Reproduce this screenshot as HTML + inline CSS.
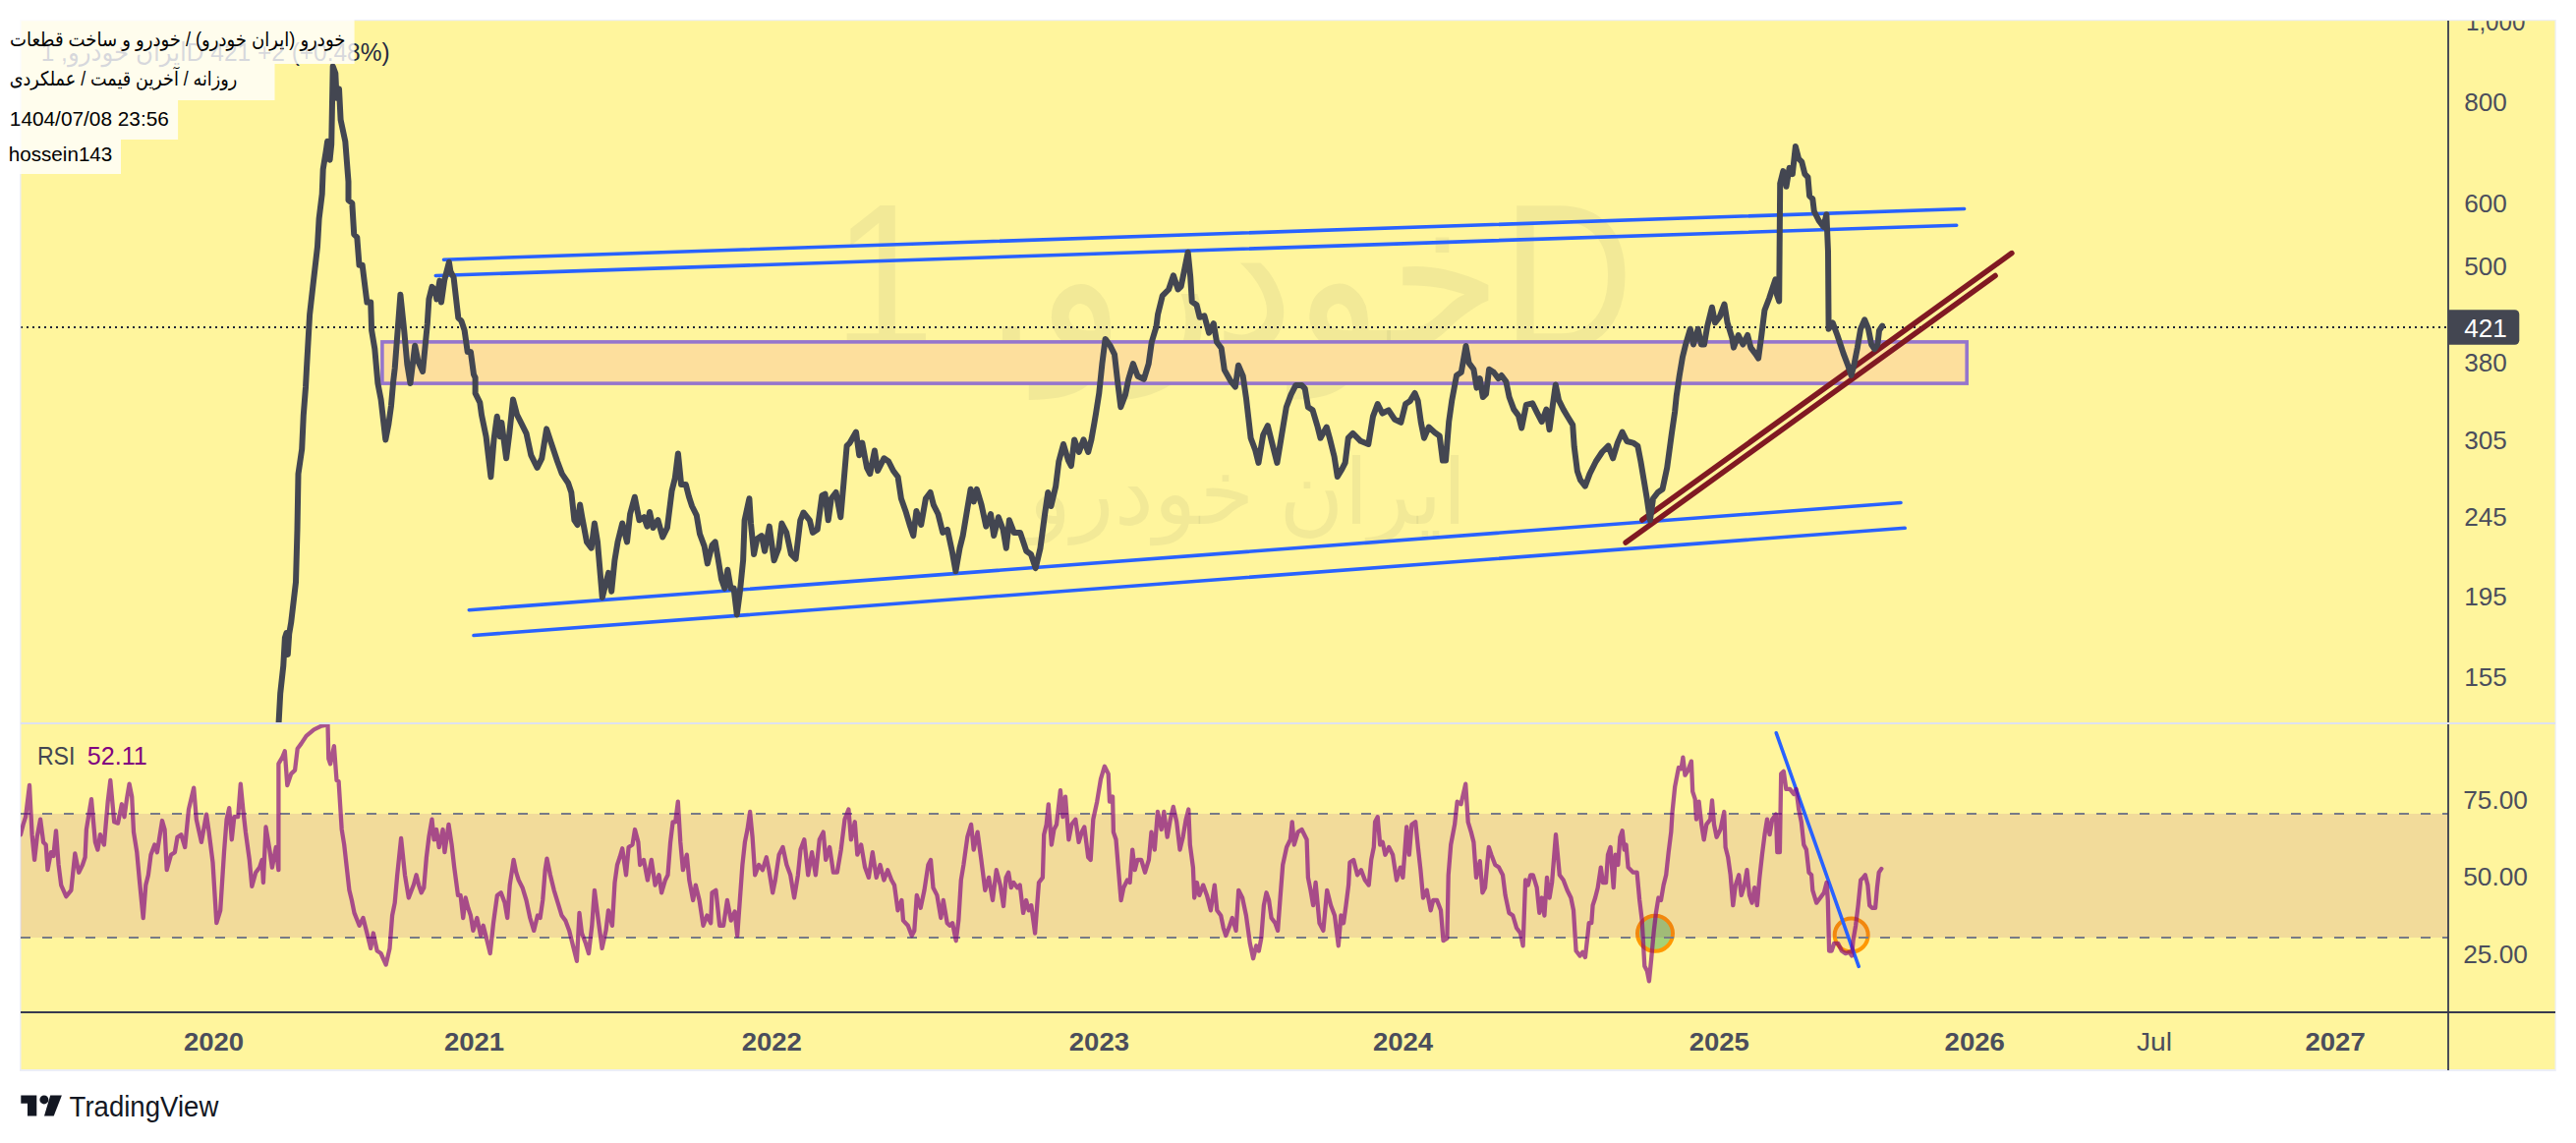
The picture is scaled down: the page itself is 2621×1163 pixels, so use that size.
<!DOCTYPE html><html><head><meta charset="utf-8"><title>chart</title>
<style>html,body{margin:0;padding:0;background:#fff;}svg{display:block;}</style></head><body>
<svg width="2621" height="1163" viewBox="0 0 2621 1163">
<defs><clipPath id="cm"><rect x="21.5" y="21.2" width="2469.5" height="713.8"/></clipPath><clipPath id="cr"><rect x="21" y="736.5" width="2470" height="293"/></clipPath></defs>
<rect x="0" y="0" width="2621" height="1163" fill="#ffffff"/>
<rect x="20" y="20" width="2580.7" height="1070" fill="#eceef6"/>
<rect x="21.5" y="21.2" width="2578" height="1066.8" fill="#fff59d"/>
<g clip-path="url(#cm)">
<text x="1255" y="354.5" font-family="'Liberation Sans', 'DejaVu Sans', sans-serif" font-size="211" fill="rgba(67,70,81,0.065)" text-anchor="middle" textLength="815" lengthAdjust="spacingAndGlyphs">خودرو, <tspan font-family="'Liberation Sans', Arial, sans-serif">1D</tspan></text>
<text x="1269.5" y="533" font-family="'Liberation Sans', 'DejaVu Sans', sans-serif" font-size="92" fill="rgba(67,70,81,0.065)" text-anchor="middle" textLength="446" lengthAdjust="spacingAndGlyphs">ایران خودرو</text>
<rect x="388.9" y="347.9" width="1612.3" height="42.2" fill="#fddf9d" stroke="#9575cd" stroke-width="3.6"/>
<line x1="21" y1="333" x2="2491" y2="333" stroke="#1e2235" stroke-width="2" stroke-dasharray="2 4"/>
<line x1="451.5" y1="264.2" x2="1998.6" y2="212.5" stroke="#2962ff" stroke-width="3.6" stroke-linecap="round"/>
<line x1="443.3" y1="280.5" x2="1990.7" y2="229.2" stroke="#2962ff" stroke-width="3.6" stroke-linecap="round"/>
<line x1="477.3" y1="620.7" x2="1934" y2="511.5" stroke="#2962ff" stroke-width="3.6" stroke-linecap="round"/>
<line x1="482" y1="646.5" x2="1938.2" y2="537.3" stroke="#2962ff" stroke-width="3.6" stroke-linecap="round"/>
<line x1="1670.9" y1="529.1" x2="2046.9" y2="257.6" stroke="#801922" stroke-width="5.5" stroke-linecap="round"/>
<line x1="1654.1" y1="552.1" x2="2030.1" y2="280.5" stroke="#801922" stroke-width="5.5" stroke-linecap="round"/>
<polyline points="283.6,735 285.2,705.7 288.3,677.4 289.9,649 291.5,644 292.8,666 294.2,645 296.2,633.3 301,592.3 302.5,538.8 303.5,482.1 307.2,456.9 308.8,422.2 311,393.9 312,375 315.1,320.2 318.3,291.9 323,250.9 324.6,222.6 327.7,197.4 328.7,172.2 331.8,153.3 333.1,143.8 335.6,162.7 337.2,147 338.7,67.5 341.3,74.5 342.5,99.7 345,90.3 346.6,121.8 351.3,143.8 354.5,184.8 354.5,203.7 358.3,206.8 360.2,238.3 363.3,241.5 365.5,269.8 368.7,269.8 371.8,295 373.4,307.6 377.2,307.6 378.1,336 381.3,354.9 384.4,390 387.6,406.5 392.3,447.4 395.4,431.7 398,412.8 400.2,387.6 401.7,375 407.4,299.7 411.2,336 414.3,370.6 417.5,390 422.2,351.7 425.4,367.5 430.1,378 434.8,329.7 436.4,304.5 439.5,291.9 442.7,295 444.3,304.5 447.4,285.6 449,307.6 452.1,285.6 456.9,266.7 458.4,276.1 461.6,282.4 466.3,323.4 469.4,326.5 472.6,336 475.7,358 478.9,358 482,381 483.6,384.4 483.6,400.2 488.3,409.6 490,422.2 494.6,444.3 499.4,485.2 502.5,447.4 505.7,423.8 508.8,444.3 510.4,430.1 515.1,466.3 518.3,441.1 522,406.5 526.1,422.2 530.9,431.7 535.6,441.1 540.3,463.2 546.6,475.8 551.3,466.3 556.1,436.4 560.8,450.6 567.1,469.5 571.8,482.1 578.1,491.5 581.3,501 584.4,529.3 587.6,534 590.1,513.6 592.3,526.2 597,551.4 601.7,557.7 604.9,532.5 608,551.4 612.8,608.1 615.9,595.5 619.1,582.9 622.2,601.8 625.4,570.3 628.5,551.4 633.2,532.5 638,551.4 641.1,523 645.8,505.7 650.5,529.3 655.3,526.2 658.4,535.6 661,521 664.5,537 669.4,529.1 674.2,546.5 678.9,537 683.6,499.2 686.8,486.6 689.9,461.4 693.1,492.9 697.8,492.9 701,505.5 704.1,515 708.8,524.4 712,543.3 716.7,555.9 719.8,573.4 724.6,554.5 727.7,551.4 730.9,570.3 734,589.2 737.2,598.6 740.3,579.7 743.5,598.6 746.6,598.6 749.8,625.4 752.9,601.8 756.1,570.3 757.6,529.3 762.4,507.3 764,532.5 767.1,564 770.3,548.2 775,545.1 778.1,560.8 782.8,535.6 787.6,570.3 792.3,557.7 795.4,532.5 800.2,541.9 804.9,564 809.6,568.7 814.3,529.3 817.5,521.5 823.8,529.3 826.9,541.9 831.7,538.8 836.4,504.1 839.5,502.6 842.7,529.3 845.8,507.3 850.6,501 855.3,526.2 858.4,491.5 861.6,453.7 864.7,450.6 871,439.6 874.2,463.2 877.3,450.6 882,475.8 885.2,482.1 889.9,458.5 893.1,479 899.4,466.3 904.1,469.5 908.9,479 913.6,485.2 916.9,507.3 921.4,519.9 926.1,535.6 929.3,545.1 932.4,519.9 937.2,534 941.9,507.3 946.6,501 949.8,513.6 954.5,523 959.2,541.9 964,538.8 968.7,560.8 972.4,581.3 976.5,557.7 979.7,545.1 984.4,516.7 987.6,497.8 990.7,510.4 993.9,497.8 998.6,513.6 1003.3,535.6 1008,523 1011.2,545.1 1015.9,526.2 1020.6,538.8 1023.8,557.7 1026.9,529.3 1031.7,541.9 1038,541.9 1044.3,560.8 1049,564 1053.7,578.1 1058.5,557.7 1060,546.5 1063.1,523 1066.3,501 1069.4,515 1074.2,494.7 1077.3,469.5 1082,452 1086.8,468 1089.9,474 1093.1,447.4 1097.8,460 1102.5,447.4 1107.2,460 1110.4,447.4 1113.5,430 1115.1,420.5 1118.3,400 1121.4,370.1 1124.6,344.9 1129.3,351.2 1134,360.6 1137.2,389 1140.3,414.2 1145,401.6 1148.2,385.8 1152.9,370.1 1157.6,382.7 1163.9,385.8 1168.7,370.1 1171.8,348 1176.5,332.3 1178.1,319.7 1182.8,300.8 1189.1,294.5 1193.9,280.3 1198.6,294.5 1201.7,291.3 1204.9,275.6 1208.7,256.7 1211.2,281.9 1212.8,307.1 1217.5,310.2 1220.6,322.8 1225.4,321.3 1230.1,338.6 1234.8,329.1 1238,348 1242.7,354.3 1245.8,376.4 1252.1,387.6 1256.9,393.7 1260,371.7 1264.7,382.7 1267.9,404.7 1272.6,445.7 1277.3,458.3 1280.5,470.9 1285.2,442.5 1289.9,433.1 1294.6,452 1299.4,470.9 1304.1,442.5 1308.8,414.2 1313.5,401.6 1318.3,392.1 1324.6,392.1 1327.7,395.3 1330.9,414.2 1335.6,417.3 1340.3,433.1 1343.5,445.7 1349.8,434.6 1352.9,445.7 1357.6,464.6 1360.8,485 1365.5,477.2 1368.7,470.9 1371.8,445.7 1376.5,440.9 1384.4,448.8 1392.3,452 1397,423.6 1401.7,411 1406.5,420.5 1412.8,417.3 1419.1,426.8 1425.4,429.9 1430.1,411 1434.8,407.9 1439.5,400 1442.7,407.9 1445.8,429.9 1449,445.7 1453.7,434.6 1460,440.2 1464.7,443.4 1467.9,468.6 1471,468.6 1474.2,429.2 1477.3,407.2 1482,382 1486.8,378.8 1491.5,352 1494.6,369.4 1499.4,375.7 1502.5,394.6 1505.7,385.1 1508.8,404 1512,400.9 1515.1,375.7 1519.8,378.8 1524.6,385.1 1527.7,382 1532.4,388.3 1535.6,404 1540.3,416.6 1545,422.9 1548.2,435.5 1552.9,411.9 1559.2,410.3 1563.9,419.8 1568.7,429.2 1573.4,416.6 1576.5,437.1 1579.7,413.5 1582.8,391.4 1586,407.2 1590.7,416.6 1595.4,424.5 1600.2,432.4 1601.7,454.4 1604.9,479.6 1608,488.4 1612.8,494.7 1617.5,482.1 1623.8,469.5 1630.1,460 1636.4,453.7 1641.1,466.3 1645.8,450.6 1650.6,439.6 1655.3,449 1661.6,450.6 1666.3,453.7 1669.4,469.5 1672.6,488.4 1675.7,507.3 1678.9,529.3 1682,507.3 1686.8,501 1691.5,497.8 1696.2,475.8 1700.9,441.1 1704.1,419.1 1705.7,403.3 1708.8,382 1712,363.1 1715.1,350.5 1719.8,334.7 1723,350.5 1727.7,334.7 1730.9,350.5 1734,350.5 1737.2,331.6 1741.9,312.7 1745,328.4 1749.8,322.1 1754.5,309.5 1757.6,328.4 1762.4,344.2 1763.9,353.6 1768.7,341 1773.4,350.5 1778.1,341 1781.3,353.6 1786,359.9 1789.1,364.6 1792.3,341 1795.4,315.8 1800.2,303.2 1803.3,293.8 1806.5,284.3 1808,300.1 1810.2,306.4 1811.2,186.7 1814.3,174.1 1817.5,189.8 1820.6,170.9 1823.8,177.2 1826.9,148.9 1830.1,161.5 1833.2,164.6 1836.4,177.2 1839.5,180.4 1841.1,199.3 1844.3,202.4 1845.8,215 1850.6,224.5 1855.3,230.8 1858.4,218.2 1860,256 1860.6,334.7 1864.7,328.4 1869.4,341 1872.6,350.5 1875.7,359.9 1880.5,372.5 1883.6,382 1886.8,369.4 1889.9,353.6 1893.1,334.7 1897.2,325.3 1901,334.7 1904.1,350.5 1907.2,355.2 1910.4,350.5 1912,336.3 1915.1,331.6" fill="none" stroke="#434651" stroke-width="6" stroke-linejoin="round" stroke-linecap="round"/>
</g>
<g clip-path="url(#cr)">
<circle cx="1684" cy="949.8" r="18" fill="rgba(76,175,80,0.5)" stroke="#ff9800" stroke-width="4"/>
<circle cx="1883.7" cy="951.5" r="17" fill="rgba(255,183,77,0.3)" stroke="#ff9800" stroke-width="4"/>
<rect x="21" y="828" width="2470" height="126" fill="rgba(128,0,128,0.106)"/>
<line x1="21" y1="828" x2="2491" y2="828" stroke="#787b86" stroke-width="2" stroke-dasharray="10 12"/>
<line x1="21" y1="954" x2="2491" y2="954" stroke="#787b86" stroke-width="2" stroke-dasharray="10 12"/>
<line x1="1807.3" y1="745.8" x2="1891.2" y2="983.4" stroke="#2962ff" stroke-width="3.6" stroke-linecap="round"/>
<polyline points="21,849.2 23.6,838.9 26.1,831.2 30,799 32.6,849.2 35.1,874.9 37.7,851.7 41.1,833.7 44.1,856.9 46.7,859.5 48.5,885.2 51.9,867.2 54.4,871 57,845.3 59.6,880 62.2,900.6 67.3,912.2 72.4,905.8 76.3,868.5 80.2,887.7 84,880 86.6,872.3 87.9,844 93,813.2 96.9,856.9 99.4,864.6 102,849.2 105.9,859.5 109.7,815.7 112.3,793.9 116.2,836.3 120,837.6 123.9,818.3 126.5,831.2 129,813.2 131.6,797.7 134.2,810.6 136,846.6 139.3,867.2 141.9,895.5 145.7,934 148.3,900.6 150.9,890.3 153.5,869.7 157.3,859.5 159.9,867.2 165,835 167.6,844 169.7,885.2 174,869.7 177.9,867.2 180.5,851.7 184.3,849.2 188.2,862 192,823.5 197.2,801.6 199.8,833.7 204.9,856.9 210,828.6 212.6,846.6 216.5,877.5 220.3,939.2 224.2,926.3 228,867.2 230.6,833.7 233.2,822.2 235.8,854.3 238.3,831.2 242.2,831.2 244.8,797.7 247.3,823.5 249.9,846.6 253.8,874.9 256.3,901.9 260.2,887.7 264.1,882.6 266.6,874.9 267.9,898 270.5,841.5 274.3,864.6 276.9,882.6 280.8,862 283.4,885.2 283.4,777.2 287.2,770.7 289.8,764.3 292.3,799 296.2,787.4 300.1,783.6 302.7,761.7 306.5,756.6 311.6,748.9 319.4,742.4 327.1,738.6 333.5,737.3 334.3,772 336.1,777.2 339.9,759.1 342.5,793.9 344.6,795.2 347.7,844 350.2,859.5 355.4,905.8 357.9,916 360.5,928.9 365.6,941.8 369.5,934 373.4,949.5 377.2,964.9 379.8,949.5 383.7,967.5 387.5,970 392.7,981.6 396.5,964.9 399.1,931.5 401.7,918.6 404.2,890.3 408.1,853 412,890.3 415.8,913.5 421,900 423.6,890.3 426.1,900.6 428.7,908.3 431.3,903.2 433.9,872.3 436.4,851.7 439.5,833.7 441.6,854.3 444.1,844 446.7,862 450.6,844 452.4,867.2 456.5,838.9 459.6,859.5 462.2,882.6 466,910.9 468.6,910.9 471.2,934 473.7,913.5 476.3,923.8 478.9,931.5 481.4,946.9 485.3,934 489.2,952 491.7,941.8 495.6,957.2 498.7,970.1 502,939.2 505.9,910.9 509.7,908.3 513.6,918.6 516.2,934 518.7,900.6 522.6,874.9 525.2,887.7 527.7,895.5 531.6,903.2 535.5,916 539.3,934 543.2,946.9 547,931.5 549.6,934 552.2,916 554.7,885.2 556.5,873.6 559.9,890.3 563.7,905.8 567.6,918.6 571.5,931.5 575.3,936.6 579.2,946.9 583,962.3 586.9,977.8 589.5,928.9 592,949.5 595.9,959.8 599,970.1 602.3,941.8 604.9,905.8 608.8,936.6 612.6,964.9 616.5,946.9 619,926.3 622.9,941.8 625.5,898 628,880 630.6,872.3 633.2,863.3 637,890.3 639.6,862 643.5,859.5 646,844 649.4,856.9 651.2,880 655,874.9 658.9,895.5 662.8,874.9 666.6,900.6 670.5,890.3 673.1,908.3 676.9,895.5 679.5,890.3 682.1,856.9 684.6,836.3 687.2,836.3 689.8,815.7 692.3,856.9 694.9,885.2 698.8,869.7 701.3,895.5 705.2,916 707.8,900.6 711.6,916 715.5,941.8 719.4,931.5 723.2,939.2 724.5,908.3 728.4,905.8 732.2,941.8 736.1,941.8 739.9,916 743.8,936.6 747.6,927.6 750.2,952 752.8,916 755.4,880 757.9,856.9 760.5,844 763.1,826 765.6,851.7 768.2,890.3 772.1,880 775.9,885.2 779.8,872.3 782.4,885.2 786.2,908.3 788.8,895.5 792.6,869.7 796.5,862 800.4,880 804.2,890.3 808.1,913.5 811.9,890.3 814.5,864.6 818.3,854.3 822.2,890.3 826.1,867.2 829.9,890.3 833.8,854.3 837.7,846.6 840.2,874.9 844.1,862 847.9,887.7 851.8,887.7 855.7,864.6 859.5,833.7 863.4,823.5 865.9,854.3 869.8,836.3 872.3,869.7 876.2,859.5 880.1,882.6 883.9,892.9 887.8,867.2 891.7,892.9 895.5,880 899.4,895.5 903.2,885.2 907.1,895.5 910,900.6 913.5,926.3 917.4,916 919,936.6 923.8,941.8 927.7,952 930.3,946.9 932.8,910.9 936.7,923.8 940.5,905.8 944.4,880 947,874.9 949.5,903.2 953.4,910.9 957.3,934 959.8,916 963.7,939.2 966.3,941.8 969.1,939.2 972.7,957.2 975.3,936.6 977.8,895.5 980.4,880 984.3,851.7 988.1,838.9 990.7,864.6 994.6,846.6 998.4,874.9 1002.3,905.8 1006.1,892.9 1010,916 1013.8,885.2 1017.7,900.6 1021,922 1023.6,892.9 1026.1,887.7 1028.7,903.2 1031.3,898 1035.1,903.2 1037.7,900.6 1041.1,928.9 1044.1,916 1046.7,926.3 1049.3,921.2 1053.1,949.5 1057,898 1060.9,892.9 1062.2,849.2 1064.7,838.9 1066.8,818.3 1069.9,859.5 1072.4,844 1075,838.9 1078.9,804.2 1081.4,831.2 1084,810.6 1087.4,854.3 1090.4,838.9 1094.3,833.7 1097.6,856.9 1100.7,846.6 1103.3,841.5 1107.2,872.3 1109.7,874.9 1112.3,833.7 1116.2,815.7 1120,792.6 1123.9,779.7 1127.7,787.4 1129,815.7 1132.1,810.6 1132.9,846.6 1135.5,854.3 1138,885.2 1140.6,916 1143.2,903.2 1147,895.5 1149.6,898 1152.2,864.6 1154.7,885.2 1157.3,874.9 1161.2,874.9 1165,887.7 1168.9,874.9 1171.5,846.6 1174.8,864.6 1177.9,826 1181.7,844 1184.3,826 1187.7,851.7 1190.8,833.7 1193.8,820.9 1197.2,836.3 1200.5,864.6 1203.6,851.7 1206.7,833.7 1209.3,823.5 1210.8,859.5 1213.9,882.6 1215.2,913.5 1217.8,898 1220.3,910.9 1224.2,900.6 1228,910.9 1231.9,926.3 1235.8,900.6 1238.3,926.3 1242.2,931.5 1244.8,944.3 1247.3,952 1251.2,941.8 1253.8,934 1257.6,946.9 1260.2,905.8 1264.1,913.5 1267.9,931.5 1271.8,959.8 1275.1,975.2 1278.2,962.3 1280.8,967.5 1283.3,954.6 1285.9,921.2 1288.5,908.3 1291.1,916 1293.6,934 1297.5,939.2 1300.1,946.9 1302.6,913.5 1305.2,880 1309.1,862 1312.9,854.3 1314.7,836.3 1316.8,859.5 1320.6,846.6 1324.5,844 1329.6,854.3 1330.9,892.9 1333.5,905.8 1336.1,921.2 1338.6,898 1342.5,939.2 1346.4,946.9 1350.2,905.8 1354.1,921.2 1358,931.5 1361.8,962.3 1364.4,931.5 1367,939.2 1369.5,921.2 1372.1,900.6 1373.4,877.5 1377.2,874.9 1381.1,890.3 1384.9,885.2 1388.8,895.5 1392.7,900.6 1395.2,874.9 1397.8,862 1399.1,836.3 1401.7,831.2 1404.2,859.5 1406.8,856.9 1409.4,869.7 1413.2,862 1417.1,869.7 1421,895.5 1424.8,882.6 1427.4,892.9 1431.2,841.5 1433.8,869.7 1436.4,838.9 1440.2,836.3 1442.8,862 1445.4,885.2 1448,913.5 1451.8,905.8 1455.7,926.3 1458.2,916 1462.1,916 1466,926.3 1468.5,957.2 1472.4,954.6 1473.7,890.3 1476.2,859.5 1480.1,838.9 1482.7,815.7 1486.5,818.3 1491.2,797.7 1493.7,836.3 1496.8,846.6 1499.4,856.9 1502,892.9 1505.8,876.2 1508.4,908.3 1511,903.2 1514.8,862 1517.4,869.7 1521.3,880 1525.1,882.6 1529,890.3 1531.6,910.9 1535.4,928.9 1539.3,931.5 1543.1,944.3 1547,949.5 1549.6,962.3 1552.1,895.5 1554.7,900.6 1557.3,890.3 1559.8,890.3 1563.7,903.2 1566.3,928.9 1568.8,913.5 1571.4,931.5 1574,892.9 1576.6,913.5 1579.1,898 1583,849.2 1586.8,890.3 1590.7,895.5 1594.6,905.8 1598.4,913.5 1601,926.3 1603.6,967.5 1607.6,972.6 1610.3,968.8 1612.9,973.9 1615.4,952 1616.7,939.2 1619.3,939.2 1620.6,921.2 1623.1,913.5 1625.7,903.2 1628.8,882.6 1630.9,898 1634,898 1636,869.7 1638.6,862 1639.9,880 1641.7,903.2 1643.7,869.7 1646.3,880 1648.4,851.7 1650.7,845.3 1652.7,864.6 1654.5,859.5 1656.6,882.6 1661.7,887.7 1665.6,887.7 1668.2,916 1670.7,936.6 1673.3,983 1675.9,988 1677.9,998.3 1680.2,975.2 1682.8,946.9 1684.9,928.9 1687.4,913.5 1690,916 1692.6,900.6 1695.2,890.3 1697.7,867.2 1700.3,846.6 1701.6,826 1704.2,800.3 1706.7,787.4 1708,781 1710.6,782.3 1712.4,770.7 1714.5,788.7 1717,784.9 1720.9,774.6 1722.2,805.4 1724.7,813.2 1726,833.7 1728.6,815.7 1731.2,838.9 1733.7,854.3 1736.3,838.9 1740.2,833.7 1742,814.4 1744,838.9 1746.6,851.7 1750.5,844 1754.3,826 1755.6,862 1758.2,872.3 1760.7,890.3 1763.3,921.2 1765.9,900.6 1769.2,890.3 1771.8,910.9 1774.9,900.6 1777.5,885.2 1780,910.9 1782.6,918.6 1785.2,903.2 1787.8,921.2 1790.3,892.9 1792.9,869.7 1795.5,849.2 1798,833.7 1800.6,849.2 1803.2,833.7 1807,828.6 1808.3,867.2 1810.9,867.2 1812.2,787.4 1814.8,784.9 1817.3,802.9 1821.2,802.9 1825.1,808 1827.6,802.9 1830.2,823.5 1832.8,836.3 1835.3,859.5 1837.9,864.6 1840.5,887.7 1843.1,890.3 1844.3,905.8 1848.2,918.6 1852.1,913.5 1855.9,908.3 1858.5,898 1859.8,916 1861.1,967.5 1863.6,967.5 1866.2,959.8 1870.1,959.8 1873.9,967.5 1877.8,970.1 1881.6,968.8 1884.2,972.6 1885.5,957.2 1888.1,941.8 1890.6,921.2 1893.2,895.5 1895.8,892.9 1897.8,890.3 1900.4,900.6 1902.2,921.2 1904.8,923.8 1908.1,923.8 1909.9,903.2 1911.7,887.7 1914.3,883.9" fill="none" stroke="rgba(128,0,128,0.66)" stroke-width="4.3" stroke-linejoin="round" stroke-linecap="round"/>
</g>
<text x="37.9" y="777.8" font-family="'Liberation Sans', Arial, sans-serif" font-size="26" fill="#434651" textLength="38.6" lengthAdjust="spacingAndGlyphs">RSI</text>
<text x="88.8" y="777.8" font-family="'Liberation Sans', Arial, sans-serif" font-size="26" fill="#800080" textLength="61" lengthAdjust="spacingAndGlyphs">52.11</text>
<line x1="2491" y1="21" x2="2491" y2="1089" stroke="#373a4f" stroke-width="1.8"/>
<line x1="21" y1="736" x2="2600" y2="736" stroke="#dee1f0" stroke-width="2"/>
<line x1="21" y1="1030" x2="2600" y2="1030" stroke="#373a4f" stroke-width="1.8"/>
<clipPath id="cax"><rect x="2492" y="21.2" width="108" height="713.8"/></clipPath>
<g clip-path="url(#cax)">
<text x="2508.9" y="30.8" font-family="'Liberation Sans', Arial, sans-serif" font-size="25" fill="#4b4e5c" textLength="60.7" lengthAdjust="spacingAndGlyphs">1,000</text>
<text x="2507.3" y="113.0" font-family="'Liberation Sans', Arial, sans-serif" font-size="25" fill="#4b4e5c" textLength="43.6" lengthAdjust="spacingAndGlyphs">800</text>
<text x="2507.3" y="215.5" font-family="'Liberation Sans', Arial, sans-serif" font-size="25" fill="#4b4e5c" textLength="43.6" lengthAdjust="spacingAndGlyphs">600</text>
<text x="2507.3" y="280.4" font-family="'Liberation Sans', Arial, sans-serif" font-size="25" fill="#4b4e5c" textLength="43.6" lengthAdjust="spacingAndGlyphs">500</text>
<text x="2507.3" y="378.2" font-family="'Liberation Sans', Arial, sans-serif" font-size="25" fill="#4b4e5c" textLength="43.6" lengthAdjust="spacingAndGlyphs">380</text>
<text x="2507.3" y="456.5" font-family="'Liberation Sans', Arial, sans-serif" font-size="25" fill="#4b4e5c" textLength="43.6" lengthAdjust="spacingAndGlyphs">305</text>
<text x="2507.3" y="534.5" font-family="'Liberation Sans', Arial, sans-serif" font-size="25" fill="#4b4e5c" textLength="43.6" lengthAdjust="spacingAndGlyphs">245</text>
<text x="2507.3" y="615.8" font-family="'Liberation Sans', Arial, sans-serif" font-size="25" fill="#4b4e5c" textLength="43.6" lengthAdjust="spacingAndGlyphs">195</text>
<text x="2507.3" y="697.6" font-family="'Liberation Sans', Arial, sans-serif" font-size="25" fill="#4b4e5c" textLength="43.6" lengthAdjust="spacingAndGlyphs">155</text>
</g>
<path d="M2491,315.2 H2558.8 A4.5,4.5 0 0 1 2563.3,319.7 V346.3 A4.5,4.5 0 0 1 2558.8,350.8 H2491 Z" fill="#434651"/>
<text x="2507.3" y="342.8" font-family="'Liberation Sans', Arial, sans-serif" font-size="25" fill="#ffffff" textLength="43.6" lengthAdjust="spacingAndGlyphs">421</text>
<text x="2506.2" y="822.5" font-family="'Liberation Sans', Arial, sans-serif" font-size="25" fill="#4b4e5c" textLength="65.8" lengthAdjust="spacingAndGlyphs">75.00</text>
<text x="2506.2" y="901.3" font-family="'Liberation Sans', Arial, sans-serif" font-size="25" fill="#4b4e5c" textLength="65.8" lengthAdjust="spacingAndGlyphs">50.00</text>
<text x="2506.2" y="979.5" font-family="'Liberation Sans', Arial, sans-serif" font-size="25" fill="#4b4e5c" textLength="65.8" lengthAdjust="spacingAndGlyphs">25.00</text>
<text x="186.9" y="1069" font-family="'Liberation Sans', Arial, sans-serif" font-size="26.5" font-weight="bold" fill="#4b4e5c" textLength="61.2" lengthAdjust="spacingAndGlyphs">2020</text>
<text x="451.9" y="1069" font-family="'Liberation Sans', Arial, sans-serif" font-size="26.5" font-weight="bold" fill="#4b4e5c" textLength="61.2" lengthAdjust="spacingAndGlyphs">2021</text>
<text x="754.7" y="1069" font-family="'Liberation Sans', Arial, sans-serif" font-size="26.5" font-weight="bold" fill="#4b4e5c" textLength="61.2" lengthAdjust="spacingAndGlyphs">2022</text>
<text x="1087.8" y="1069" font-family="'Liberation Sans', Arial, sans-serif" font-size="26.5" font-weight="bold" fill="#4b4e5c" textLength="61.2" lengthAdjust="spacingAndGlyphs">2023</text>
<text x="1396.9" y="1069" font-family="'Liberation Sans', Arial, sans-serif" font-size="26.5" font-weight="bold" fill="#4b4e5c" textLength="61.2" lengthAdjust="spacingAndGlyphs">2024</text>
<text x="1718.7" y="1069" font-family="'Liberation Sans', Arial, sans-serif" font-size="26.5" font-weight="bold" fill="#4b4e5c" textLength="61.2" lengthAdjust="spacingAndGlyphs">2025</text>
<text x="1978.6" y="1069" font-family="'Liberation Sans', Arial, sans-serif" font-size="26.5" font-weight="bold" fill="#4b4e5c" textLength="61.2" lengthAdjust="spacingAndGlyphs">2026</text>
<text x="2345.5" y="1069" font-family="'Liberation Sans', Arial, sans-serif" font-size="26.5" font-weight="bold" fill="#4b4e5c" textLength="61.2" lengthAdjust="spacingAndGlyphs">2027</text>
<text x="2174" y="1069" font-family="'Liberation Sans', Arial, sans-serif" font-size="26.5" fill="#4b4e5c" textLength="36.1" lengthAdjust="spacingAndGlyphs">Jul</text>
<text x="41.7" y="61.6" font-family="'Liberation Sans', 'DejaVu Sans', sans-serif" font-size="26" fill="#252a40" textLength="354.9" lengthAdjust="spacingAndGlyphs">ایران خودرو, <tspan font-family="'Liberation Sans', Arial, sans-serif">1D  421  +2 (+0.48%)</tspan></text>
<rect x="0" y="0" width="360.6" height="65" fill="rgba(255,255,255,0.82)"/>
<rect x="0" y="65" width="279.5" height="37" fill="rgba(255,255,255,0.82)"/>
<rect x="0" y="102" width="181.1" height="40" fill="rgba(255,255,255,0.82)"/>
<rect x="0" y="142" width="123" height="35" fill="rgba(255,255,255,0.82)"/>
<text x="9.9" y="46.5" font-family="'Liberation Sans', 'DejaVu Sans', sans-serif" font-size="20" fill="#000" textLength="341.5" lengthAdjust="spacingAndGlyphs">خودرو (ایران خودرو) / خودرو و ساخت قطعات</text>
<text x="9.7" y="86.5" font-family="'Liberation Sans', 'DejaVu Sans', sans-serif" font-size="20" fill="#000" textLength="231.5" lengthAdjust="spacingAndGlyphs">روزانه / آخرین قیمت / عملکردی</text>
<text x="9.8" y="128.1" font-family="'Liberation Sans', Arial, sans-serif" font-size="21" fill="#000" textLength="162.1" lengthAdjust="spacingAndGlyphs">1404/07/08 23:56</text>
<text x="8.8" y="163.9" font-family="'Liberation Sans', Arial, sans-serif" font-size="21" fill="#000" textLength="105.5" lengthAdjust="spacingAndGlyphs">hossein143</text>
<g fill="#131722"><path d="M21.3,1114.4 H37.3 V1135.4 H28 V1122.7 H21.3 Z"/><circle cx="44.9" cy="1118.9" r="4.5"/><path d="M51.2,1114.4 H62.9 L54.7,1135.4 H45 Z"/></g>
<text x="70.6" y="1136.3" font-family="'Liberation Sans', Arial, sans-serif" font-size="29" fill="#131722" textLength="151.7" lengthAdjust="spacingAndGlyphs">TradingView</text>
</svg></body></html>
